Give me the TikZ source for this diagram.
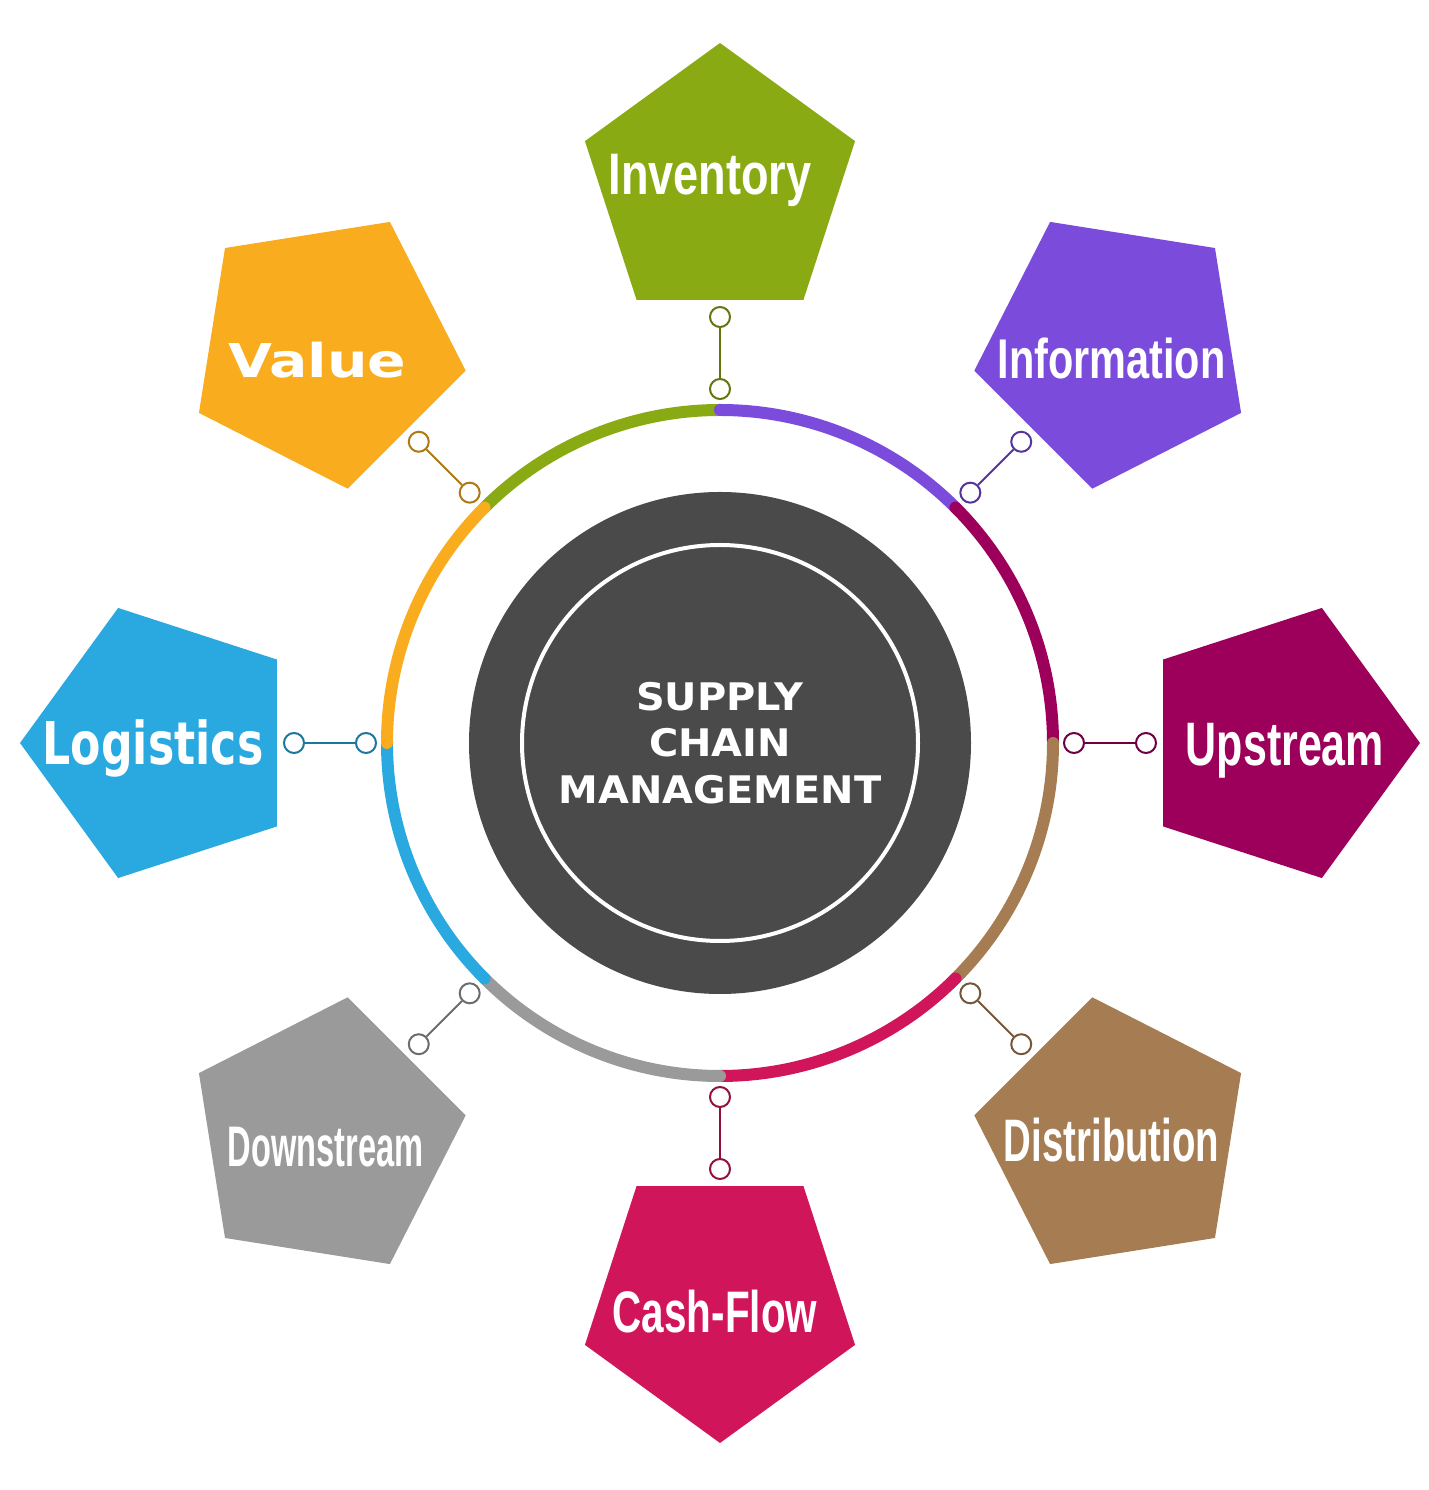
\documentclass[tikz,border=0pt]{standalone}
\usepackage{fontspec}
\setmainfont{Liberation Sans}
\newfontfamily\heavyfont{DejaVu Sans}
\usetikzlibrary{shapes.geometric}

\definecolor{inventoryc}{HTML}{8AAA14}
\definecolor{informationc}{HTML}{7B4BDB}
\definecolor{upstreamc}{HTML}{9C005B}
\definecolor{distributionc}{HTML}{A67C52}
\definecolor{cashflowc}{HTML}{D1155B}
\definecolor{downstreamc}{HTML}{9A9A9A}
\definecolor{logisticsc}{HTML}{2AA8E0}
\definecolor{valuec}{HTML}{F9AC1E}
\definecolor{hubc}{HTML}{4A4A4A}

\begin{document}
\begin{tikzpicture}[
		x=0.5pt,y=0.5pt,
		pent/.style={
			regular polygon,regular polygon sides=5,minimum size=142pt,inner sep=0pt,
		},
		knob/.style={
			circle,fill=white,line width=1pt,minimum size=10pt,inner sep=0pt,
		},
		lbl/.style={
			text=white,inner sep=0pt,anchor=base,
		},
	]

	\useasboundingbox (0,0) rectangle (1429,1490);
	\coordinate (c) at (720,747);

	% dark centre disc with its white ring
	\fill[hubc] (c) circle (251);
	\draw[white,line width=2pt] (c) circle (198);
	\node[text=white,align=center,font=\heavyfont\bfseries\fontsize{19}{23.25}\selectfont] (title) at (c)
		{\scalebox{1.05}[1]{SUPPLY}\\\scalebox{1.05}[1]{CHAIN}\\\scalebox{1.05}[1]{MANAGEMENT}};

	% one coloured arc, pentagon and connector per topic
	\foreach \ang/\nm/\fn/\sz/\st/\dx/\dy/\txt in {
			90/inventory/\rmfamily/29.3/0.77/-10/12/Inventory,
			45/information/\rmfamily/28/0.74/-3/-10/Information,
			0/upstream/\rmfamily/30.7/0.70/7/0/Upstream,
			-45/distribution/\rmfamily/30/0.64/-3/-2/Distribution,
			-90/cashflow/\rmfamily/29.3/0.69/-5/-10/Cash-Flow,
			-135/downstream/\rmfamily/28.6/0.57/0/-8/Downstream,
			180/logistics/\heavyfont/29.5/0.75/-9/0/Logistics,
			135/value/\heavyfont/23.3/1.22/-8/-12/Value}
	{
		\pgfmathsetmacro\rot{\ang-90}
		\draw[\nm c,line width=6pt,line cap=round] (c) ++(\ang:333) arc[start angle=\ang,delta angle=45,radius=333];
		\node[pent,fill=\nm c,shape border rotate=\rot] (p-\nm) at ([shift={(\ang:558)}]c) {};
		\node[lbl,yshift={-0.36*\sz*1pt}] (t-\nm) at ([shift={(\dx,\dy)}]p-\nm) {\fn\bfseries\fontsize{\sz}{\sz}\selectfont\scalebox{\st}[1]{\txt}};
		\node[knob,draw=\nm c!70!black] (k1-\nm) at ([shift={(\ang:354)}]c) {};
		\node[knob,draw=\nm c!70!black] (k2-\nm) at ([shift={(\ang:426)}]c) {};
		\draw[\nm c!70!black,line width=1pt] (k1-\nm) -- (k2-\nm);
	}

\end{tikzpicture}
\end{document}
